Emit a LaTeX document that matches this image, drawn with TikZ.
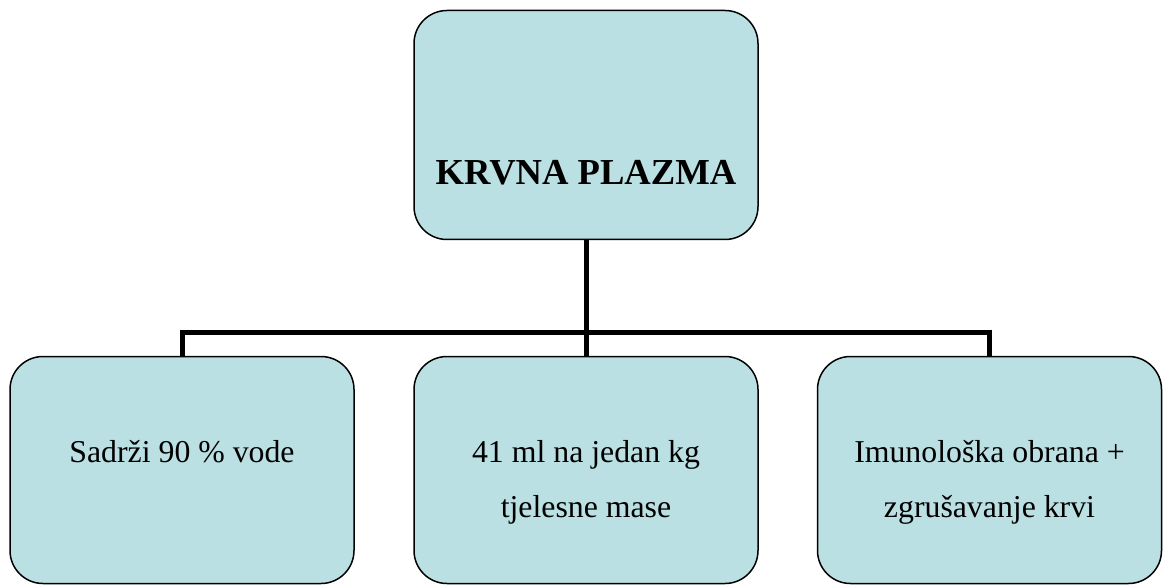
\documentclass[tikz,border=0pt]{standalone}
\usepackage{fontspec}
\setmainfont{Liberation Serif}
\usepackage{tikz}
\definecolor{plazmaplava}{RGB}{187,224,227}

\begin{document}
\begin{tikzpicture}[x=1pt, y=-1pt,
    kutija/.style={rectangle, draw, line width=1.5pt, fill=plazmaplava, rounded corners=33pt, inner sep=0pt, minimum width=344pt},
    tekst/.style={font=\fontsize{31.8}{55}\selectfont, align=center, anchor=base, inner sep=0pt},
    veza/.style={line width=5pt, line join=miter}]
        \useasboundingbox (0,0) rectangle (1167,585);
        % krvna plazma i njezina svojstva
        \node[kutija, minimum height=229pt] (plazma) at (586, 125) {};
        \node[kutija, minimum height=227pt] (voda) at (182, 470) {};
        \node[kutija, minimum height=227pt] (volumen) at (586, 470) {};
        \node[kutija, minimum height=227pt] (obrana) at (989.5, 470) {};
        \node[font=\fontsize{36.6}{44}\selectfont\bfseries, anchor=base, inner sep=0pt] (naslov) at (586, 185) {KRVNA PLAZMA};
        \node[tekst] (tvoda) at (182, 462) {Sadrži 90 \% vode};
        \node[tekst] (tvolumen) at (586, 517) {41 ml na jedan kg\\tjelesne mase};
        \node[tekst] (tobrana) at (989.5, 517) {Imunološka obrana +\\zgrušavanje krvi};
        \coordinate (razvod) at (586, 332);
        \draw[veza] (plazma.south) -- (razvod);
        \draw[veza] (razvod) -| (voda.north);
        \draw[veza] (razvod) -- (volumen.north);
        \draw[veza] (razvod) -| (obrana.north);
    \end{tikzpicture}
\end{document}
